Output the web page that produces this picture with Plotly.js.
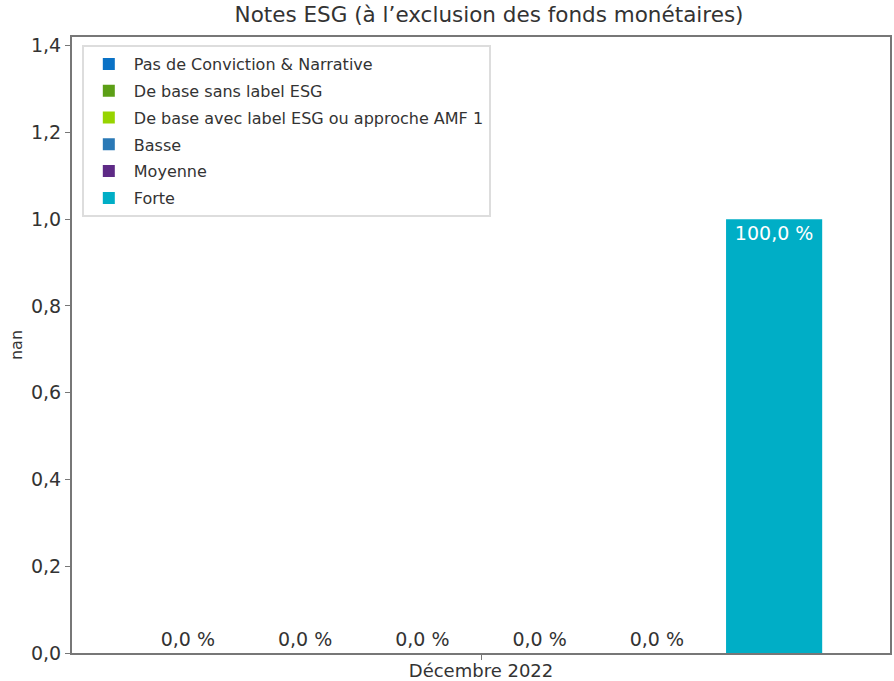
<!DOCTYPE html>
<html><head><meta charset="utf-8">
<script src="https://cdn.plot.ly/plotly-3.0.1.min.js"></script>
<style>body{margin:0;background:#fff}#c{width:894px;height:681px}</style>
</head><body><div id="c"></div>
<script>
const category = ["Décembre 2022"];
const seriesNames = ["Pas de Conviction & Narrative","De base sans label ESG","De base avec label ESG ou approche AMF 1","Basse","Moyenne","Forte"];
const seriesValues = [0, 0, 0, 0, 0, 1.0];
const seriesLabels = ["0,0 %","0,0 %","0,0 %","0,0 %","0,0 %","100,0 %"];
const colors = ["#0a72c6","#5c9f16","#97d400","#2a79b6","#5e2a86","#00aec6"];
const font = "DejaVu Sans, Verdana, sans-serif";

const traces = seriesNames.map((n,i)=>({
  type:"bar", name:n, x:category, y:[seriesValues[i]],
  legendgroup:"g"+i,
  text:[seriesLabels[i]],
  textposition: seriesValues[i] > 0 ? "inside" : "outside",
  insidetextanchor:"end",
  textfont:{family:font,size:19,color: seriesValues[i] > 0 ? "#ffffff" : "#333333"},
  cliponaxis:false,
  marker:{color:colors[i]},
  hoverinfo:"none"
}));

Plotly.newPlot("c", traces, {
  width:894, height:681,
  margin:{l:72,r:4,t:37,b:28},
  separators:", ",
  paper_bgcolor:"#fff", plot_bgcolor:"#fff",
  font:{family:font,size:16,color:"#333"},
  title:{text:"Notes ESG (à l’exclusion des fonds monétaires)",font:{family:font,size:21.5,color:"#333"},x:0.547,xanchor:"center",y:0.99,yanchor:"top"},
  barmode:"group", bargap:0.14, bargroupgap:0.18,
  showlegend:true,
  legend:{x:0.012,y:0.987,xanchor:"left",yanchor:"top",bgcolor:"#fff",bordercolor:"#dddddd",borderwidth:2,
    font:{family:font,size:16,color:"#333"},tracegroupgap:3,itemwidth:40,traceorder:"grouped"},
  xaxis:{showline:true,linecolor:"#777",linewidth:2,mirror:true,ticks:"outside",tickcolor:"#777",ticklen:5,
    showgrid:false,tickfont:{family:font,size:18,color:"#333"},tickson:"labels",ticklabelstandoff:-5},
  yaxis:{range:[0,1.42],dtick:0.2,tickformat:".1f",showline:true,linecolor:"#777",linewidth:2,mirror:true,
    ticks:"outside",tickcolor:"#777",ticklen:5,showgrid:false,zeroline:false,
    tickfont:{family:font,size:19,color:"#333"},
    title:{text:"nan",font:{family:font,size:16,color:"#333"},standoff:4}}
},{staticPlot:true});
</script></body></html>
